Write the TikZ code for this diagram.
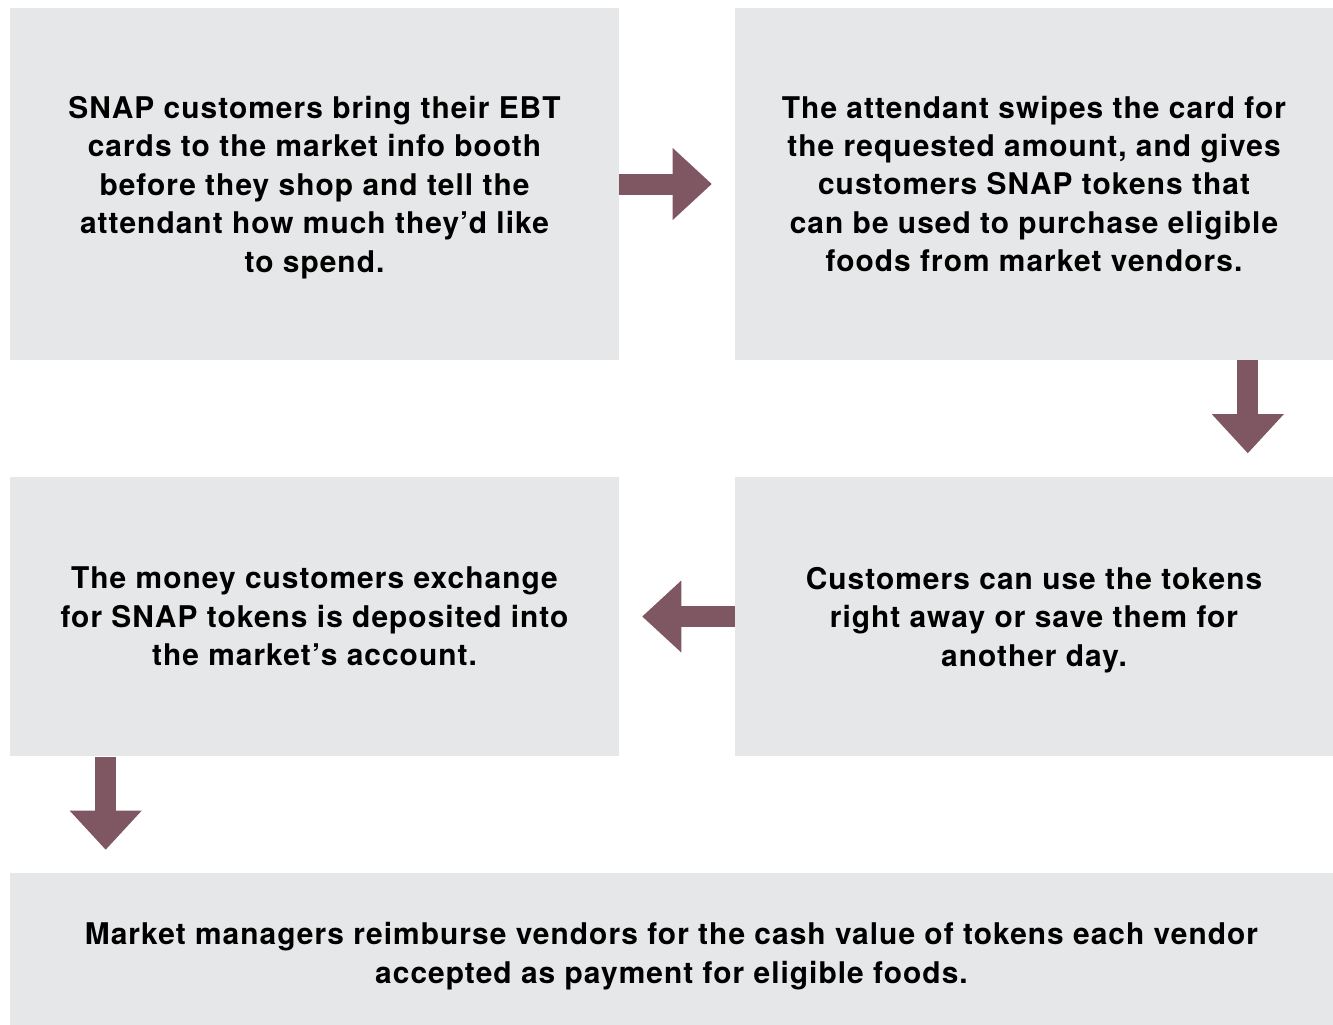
\documentclass[tikz,border=0pt]{standalone}
\usepackage{fontspec}
\usetikzlibrary{arrows.meta}
\newfontfamily\stepfont{TeX Gyre Heros}[LetterSpace=3.5]
\definecolor{boxgray}{HTML}{E6E7E8}
\definecolor{mauve}{HTML}{7F5763}
% last line without its descender depth
\newcommand{\nodesc}[1]{\raisebox{0pt}[\height][0pt]{#1}}

\begin{document}
\begin{tikzpicture}[x=0.02cm, y=-0.02cm,
    stepbox/.style={fill=boxgray, inner sep=0pt, align=center,
      font=\stepfont\bfseries\fontsize{17}{21.9}\selectfont},
    flow/.style={draw=mauve, line width=0.42cm, shorten >=0.46cm,
      -{Triangle[width=1.44cm, length=0.78cm, line width=0pt, fill=mauve]}}]
  \useasboundingbox (0,0) rectangle (1333,1025);
  % process boxes
  \node[stepbox, minimum width=12.18cm, minimum height=7.04cm] (bring) at (314.5,184)
    {SNAP customers bring their EBT\\cards to the market info booth\\before they shop and tell the\\attendant how much they’d like\\\nodesc{to spend.}};
  \node[stepbox, minimum width=11.96cm, minimum height=7.04cm] (swipe) at (1034,184)
    {The attendant swipes the card for\\the requested amount, and gives\\customers SNAP tokens that\\can be used to purchase eligible\\foods from market vendors.};
  \node[stepbox, minimum width=11.96cm, minimum height=5.6cm] (use) at (1034,616.5)
    {Customers can use the tokens\\right away or save them for\\\nodesc{another day.}};
  \node[stepbox, minimum width=12.18cm, minimum height=5.6cm] (deposit) at (314.5,616.5)
    {The money customers exchange\\for SNAP tokens is deposited into\\the market’s account.};
  \node[stepbox, minimum width=26.46cm, minimum height=3.2cm] (reimburse) at (671.5,953)
    {Market managers reimburse vendors for the cash value of tokens each vendor\\\nodesc{accepted as payment for eligible foods.}};

  % block arrows
  \draw[flow] (bring) -- (swipe);
  \draw[flow] ([xshift=-1.71cm]swipe.south east) -- ([xshift=-1.71cm]swipe.south east |- use.north);
  \draw[flow] (use) -- (deposit);
  \draw[flow] ([xshift=1.92cm]deposit.south west) -- ([xshift=1.92cm]deposit.south west |- reimburse.north);
\end{tikzpicture}
\end{document}
